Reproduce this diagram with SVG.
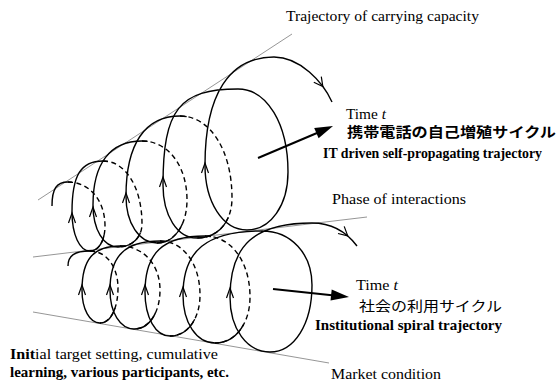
<svg xmlns="http://www.w3.org/2000/svg" width="558" height="385" viewBox="0 0 558 385">
<style>
.sp{fill:none;stroke:#000;stroke-width:1.4;stroke-linecap:butt}
.dash{stroke-dasharray:5 3.5}
.tail{stroke-dasharray:4 72 24 100}
.env{fill:none;stroke:#8a8a8a;stroke-width:0.9}
.hd{fill:none;stroke:#000;stroke-width:1.2}
.big{fill:none;stroke:#000;stroke-width:2}
.tri{fill:#000}
.lab{font-family:"Liberation Serif","Times New Roman",serif;font-size:14px;fill:#000}
.b{font-weight:bold}
.jp{font-family:"Noto Sans CJK JP","Noto Sans CJK SC",sans-serif;font-size:14px;fill:#000}
</style>
<rect width="558" height="385" fill="#fff"/>
<g id="envelopes">
<line class="env" x1="38" y1="200" x2="292" y2="34"/>
<line class="env" x1="33" y1="257" x2="367" y2="217"/>
<line class="env" x1="33" y1="312" x2="329" y2="363"/>
</g>
<g id="it-spiral">
<path class="sp" d="M52,206 C52,188.7 56.5,182 68,182"/>
<path class="sp dash" d="M68,182 C89.5,182 105,200.5 105,226 C105,240.5 98.7,251 90,251"/>
<path class="sp tail" pathLength="100" d="M68,182 C89.5,182 105,200.5 105,226 C105,240.5 98.7,251 90,251"/>
<path class="sp" d="M90,251 C79.6,251 72,234.6 72,212 C72,175.3 80.7,161 103,161"/>
<path class="sp dash" d="M103,161 C125.6,161 142,187.5 142,224 C142,237.3 131.9,247 118,247"/>
<path class="sp tail" pathLength="100" d="M103,161 C125.6,161 142,187.5 142,224 C142,237.3 131.9,247 118,247"/>
<path class="sp" d="M118,247 C103.5,247 93,229.4 93,205 C93,163.4 110.15,141 142,141"/>
<path class="sp dash" d="M142,141 C168.1,141 187,165.8 187,200 C187,224.9 174.4,243 157,243"/>
<path class="sp tail" pathLength="100" d="M142,141 C168.1,141 187,165.8 187,200 C187,224.9 174.4,243 157,243"/>
<path class="sp" d="M157,243 C139,243 126,223.3 126,196 C126,144 144.9,116 180,116"/>
<path class="sp dash" d="M180,116 C210.2,116 232,150.4 232,198 C232,221.2 218.5,238 197,238"/>
<path class="sp tail" pathLength="100" d="M180,116 C210.2,116 232,150.4 232,198 C232,221.2 218.5,238 197,238"/>
<path class="sp" d="M197,238 C177.3,238 163,215.7 163,185 C163,109.3 179.5,89 238,89 C267,89 288,123.9 288,172 C288,205.1 270.8,230 247,230 C222.6,230 205,202.1 205,165 C205,94.8 229.15,57 274,57 C300,57 323,82 332,102"/>
<path class="hd" d="M68.5,223 L72,213 L75.5,223 M89.5,217 L93,207 L96.5,217 M122.5,203 L126,193 L129.5,203 M159.5,187 L163,177 L166.5,187 M201.5,173 L205,163 L208.5,173"/>
<path class="hd" d="M321.3,76.6 L322.8,86.5 L313.8,82.2"/>
</g>
<g id="institutional-spiral">
<path class="sp" d="M68,266 C68,255.5 74.6,251 90,251"/>
<path class="sp dash" d="M90,251 C106.2,251 118,266.5 118,288 C118,308.3 110.4,323 100,323"/>
<path class="sp tail" pathLength="100" d="M90,251 C106.2,251 118,266.5 118,288 C118,308.3 110.4,323 100,323"/>
<path class="sp" d="M100,323 C89.6,323 82,309.1 82,290 C82,259.2 93.4,246 120,246"/>
<path class="sp dash" d="M120,246 C143.2,246 160,264.5 160,290 C160,312.6 149.1,329 134,329"/>
<path class="sp tail" pathLength="100" d="M120,246 C143.2,246 160,264.5 160,290 C160,312.6 149.1,329 134,329"/>
<path class="sp" d="M134,329 C120.1,329 110,312.6 110,290 C110,255.7 125,241 160,241"/>
<path class="sp dash" d="M160,241 C183.2,241 200,263.7 200,295 C200,318.8 187.4,336 170,336"/>
<path class="sp tail" pathLength="100" d="M160,241 C183.2,241 200,263.7 200,295 C200,318.8 187.4,336 170,336"/>
<path class="sp" d="M170,336 C155.5,336 145,317.5 145,292 C145,252.8 163,236 205,236"/>
<path class="sp dash" d="M205,236 C231.1,236 250,261.6 250,297 C250,323.7 235.3,343 215,343"/>
<path class="sp tail" pathLength="100" d="M205,236 C231.1,236 250,261.6 250,297 C250,323.7 235.3,343 215,343"/>
<path class="sp" d="M215,343 C196.4,343 183,322.8 183,295 C183,250.2 206.7,231 262,231 C291,231 312,253.7 312,285 C312,323.9 294.4,352 270,352 C246.8,352 230,328.9 230,297 C230,245.2 254.6,223 312,223 C335,223 348,234 357,246"/>
<path class="hd" d="M78.5,295 L82,285 L85.5,295 M106.5,295 L110,285 L113.5,295 M141.5,295 L145,285 L148.5,295 M179.5,297 L183,287 L186.5,297 M226.5,298 L230,288 L233.5,298"/>
<path class="hd" d="M344.2,226.4 L347.7,235.8 L338,233.5"/>
</g>
<g id="connectors">
<line class="big" x1="258" y1="158" x2="317" y2="133"/>
<polygon class="tri" points="333,126 318.6,138.2 314.2,128"/>
<line class="big" x1="273" y1="289" x2="332" y2="295.2"/>
<polygon class="tri" points="349,297 330.5,300.6 331.7,289.6"/>
</g>
<g id="labels">
<text class="lab" x="286" y="21" textLength="193" lengthAdjust="spacingAndGlyphs">Trajectory of carrying capacity</text>
<text class="lab" x="346" y="119" textLength="40" lengthAdjust="spacingAndGlyphs">Time <tspan font-style="italic">t</tspan></text>
<text class="jp b" x="347" y="137" textLength="209" lengthAdjust="spacingAndGlyphs">携帯電話の自己増殖サイクル</text>
<text class="lab b" x="323" y="158" textLength="219" lengthAdjust="spacingAndGlyphs">IT driven self-propagating trajectory</text>
<text class="lab" x="332" y="204" textLength="134" lengthAdjust="spacingAndGlyphs">Phase of interactions</text>
<text class="lab" x="356" y="290" textLength="42" lengthAdjust="spacingAndGlyphs">Time <tspan font-style="italic">t</tspan></text>
<text class="jp" x="359" y="311" textLength="143" lengthAdjust="spacingAndGlyphs">社会の利用サイクル</text>
<text class="lab b" x="315" y="330" textLength="187" lengthAdjust="spacingAndGlyphs">Institutional spiral trajectory</text>
<text class="lab" x="331" y="379" textLength="110" lengthAdjust="spacingAndGlyphs">Market condition</text>
<text class="lab" x="10" y="359" textLength="208" lengthAdjust="spacingAndGlyphs"><tspan font-weight="bold">Init</tspan>ial target setting, cumulative</text>
<text class="lab b" x="10" y="377" textLength="219" lengthAdjust="spacingAndGlyphs">learning, various participants, etc.</text>
</g>
</svg>
